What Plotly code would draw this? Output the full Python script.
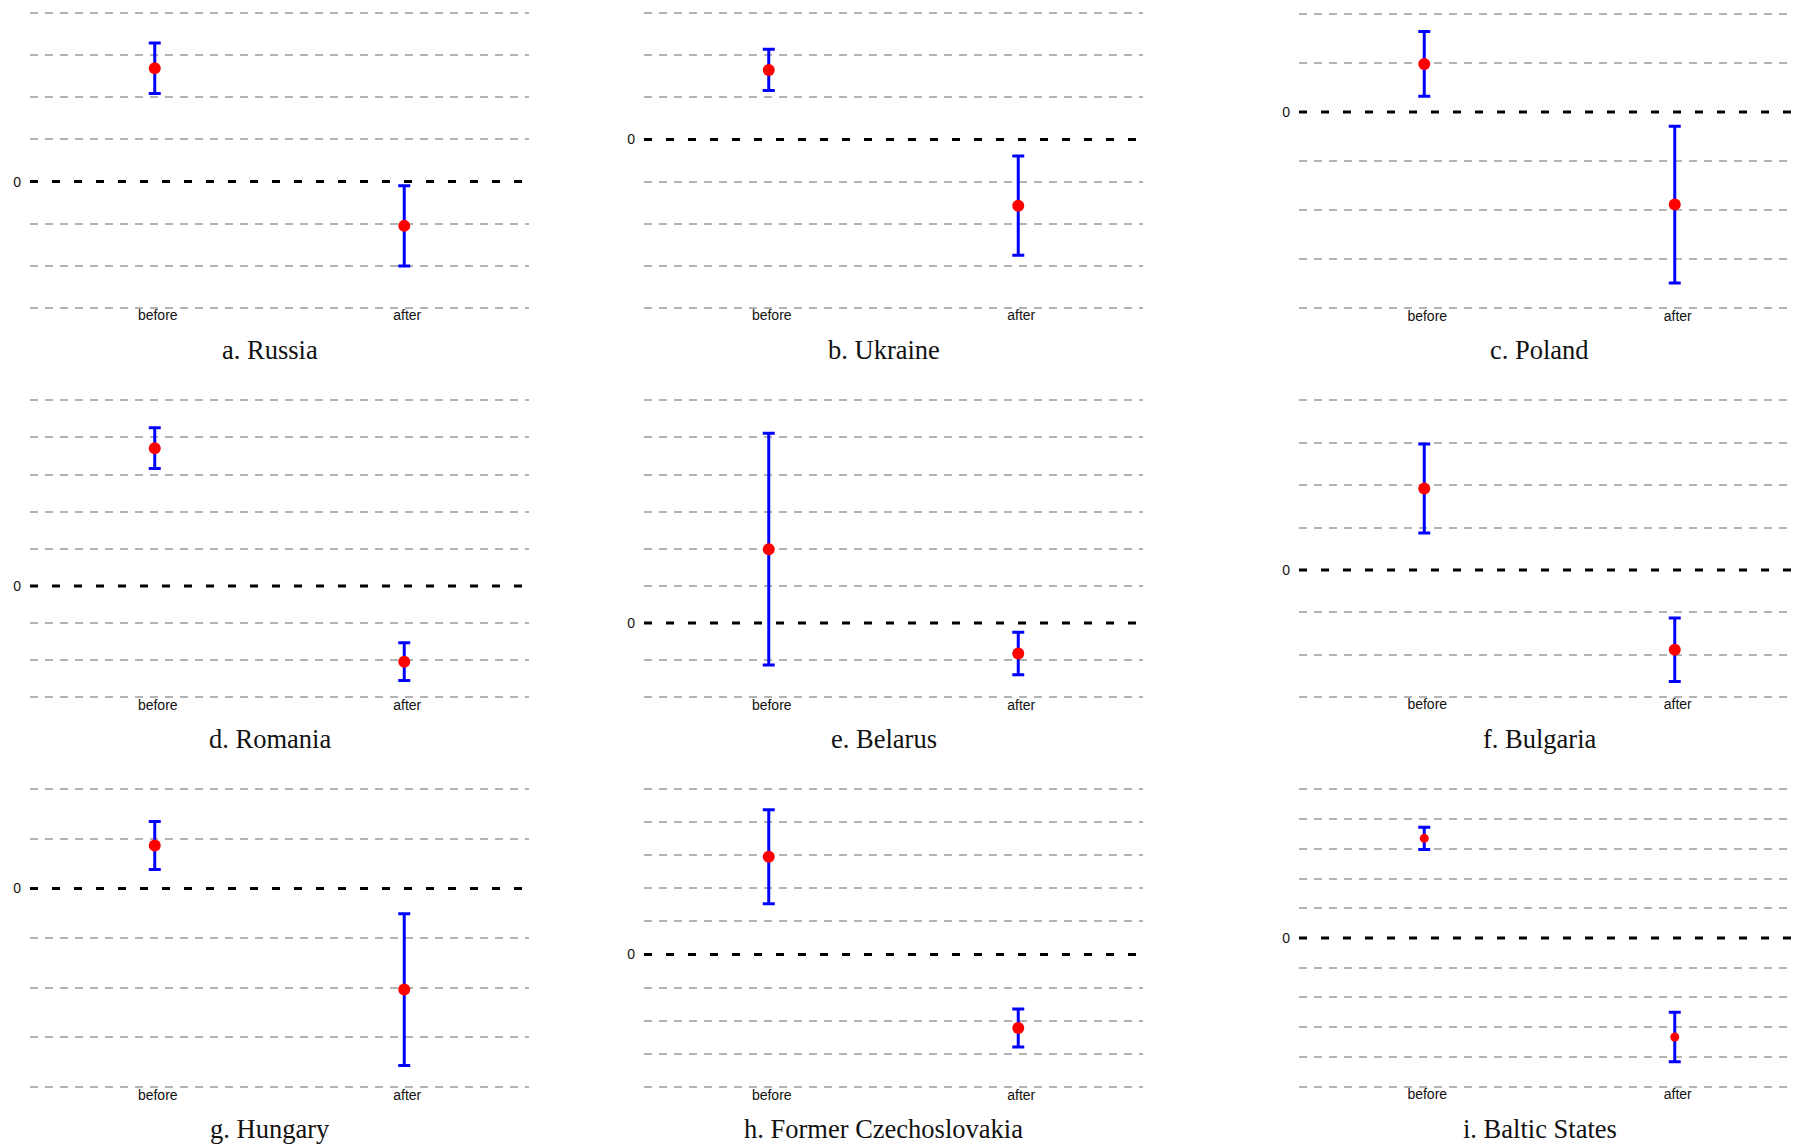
import plotly.graph_objects as go

# ---------------- data ----------------
panel_titles = ["a. Russia", "b. Ukraine", "c. Poland",
                "d. Romania", "e. Belarus", "f. Bulgaria",
                "g. Hungary", "h. Former Czechoslovakia", "i. Baltic States"]
periods = ["before", "after"]
before_est = [2.69, 1.65, 0.98, 3.71, 1.99, 1.92, 0.865, 2.96, 3.35]
before_err = [0.60, 0.49, 0.66, 0.55, 3.12, 1.05, 0.485, 1.42, 0.375]
after_est = [-1.05, -1.57, -1.89, -2.04, -0.82, -1.88, -2.04, -2.22, -3.33]
after_err = [0.95, 1.18, 1.60, 0.51, 0.57, 0.75, 1.53, 0.575, 0.83]
y_low = [-3, -4, -4, -3, -2, -3, -4, -4, -5]
y_high = [4, 3, 2, 5, 6, 4, 2, 5, 5]

# ---------------- layout geometry (page pixels) ----------------
OFF = 8                      # default body margin of the html page
W, H = 1800 - OFF, 1148 - OFF
col_px = [(30, 529), (644, 1143), (1299, 1800)]
row_px = [(10.3, 308.0), (400.3, 697.3), (789.3, 1086.7)]
marker_sizes = [12, 12, 12, 12, 12, 12, 12, 12, 9]

fig = go.Figure()
layout = dict(width=W, height=H, margin=dict(l=0, r=0, t=0, b=0),
              paper_bgcolor="white", plot_bgcolor="white", showlegend=False)
shapes, annotations = [], []
eps = 0.12

for i in range(9):
    r, c = divmod(i, 3)
    n = "" if i == 0 else str(i + 1)
    x0, x1 = col_px[c][0] - OFF, col_px[c][1] - OFF
    t, b = row_px[r][0] - OFF, row_px[r][1] - OFF
    lo, hi = y_low[i], y_high[i]
    span = hi - lo
    pad_px = eps * (b - t) / span
    fig.add_trace(go.Scatter(
        x=periods, y=[before_est[i], after_est[i]],
        mode="markers",
        marker=dict(color="#ff0000", size=marker_sizes[i], line=dict(width=0)),
        error_y=dict(type="data", array=[before_err[i], after_err[i]],
                     color="#0000ff", thickness=3, width=6),
        xaxis="x" + n, yaxis="y" + n, cliponaxis=False,
    ))
    layout["xaxis" + n] = dict(
        domain=[max(x0, 0) / W, min(x1, W) / W], anchor="y" + n, type="category",
        range=[-0.5, 1.5], showgrid=False, zeroline=False, showline=False,
        ticks="", tickfont=dict(family="Liberation Sans, Arial", size=14, color="#111"),
        ticklabelstandoff=-3 - int(pad_px), ticklabelshift=3,
    )
    layout["yaxis" + n] = dict(
        domain=[1 - (b + pad_px) / H, min(1, 1 - (t - pad_px) / H)], anchor="x" + n,
        range=[lo - eps, hi + eps], showgrid=False, zeroline=False, showline=False,
        tickmode="array", tickvals=[0], ticktext=["0"], ticks="",
        tickfont=dict(family="Liberation Sans, Arial", size=14, color="#111"),
        ticklabelstandoff=8,
        minor=dict(tickmode="array",
                   tickvals=[v for v in range(lo, hi + 1) if v != 0],
                   showgrid=True, gridcolor="#b3b3b3", gridwidth=1.5,
                   griddash="8px,7px", ticks=""),
    )
    shapes.append(dict(type="line", xref="x" + n + " domain", yref="y" + n,
                       x0=0, x1=1, y0=0, y1=0, layer="below",
                       line=dict(color="black", width=3, dash="8px,14px")))
    annotations.append(dict(text=panel_titles[i], xref="x" + n + " domain",
                            yref="y" + n + " domain", x=0.5, y=0,
                            xshift=-10, yshift=-42 + pad_px, showarrow=False,
                            xanchor="center", yanchor="middle",
                            font=dict(family="Liberation Serif, Times New Roman",
                                      size=26.5, color="#111")))

layout["shapes"] = shapes
layout["annotations"] = annotations
fig.update_layout(**layout)
fig.write_html("out.html")
